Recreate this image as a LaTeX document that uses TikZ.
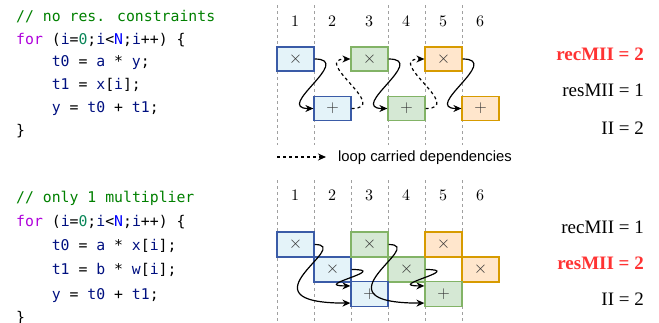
\documentclass[tikz,border=0pt]{standalone}
\usepackage{fontspec}
\usetikzlibrary{arrows.meta,calc}
\newfontfamily\tnr{Liberation Serif}
\newfontfamily\hel{Liberation Sans}
\newfontfamily\dmono{DejaVu Sans Mono}
\newfontfamily\lmten{lmroman10-regular.otf}
\definecolor{kwc}{HTML}{AF00DB}
\definecolor{varc}{HTML}{001080}
\definecolor{numc}{HTML}{098658}
\definecolor{cstc}{HTML}{0000FF}
\definecolor{cmtc}{HTML}{008000}
\definecolor{bfill}{HTML}{E4F3F9}
\definecolor{bdraw}{HTML}{3A5BA7}
\definecolor{gfill}{HTML}{D5E8D4}
\definecolor{gdraw}{HTML}{82B366}
\definecolor{ofill}{HTML}{FFE6CC}
\definecolor{odraw}{HTML}{D79B00}
\definecolor{gridc}{HTML}{A0A0A0}
\definecolor{redc}{HTML}{FF3333}
\newcommand\kwx[1]{\textcolor{kwc}{#1}}
\newcommand\vax[1]{\textcolor{varc}{#1}}
\newcommand\nux[1]{\textcolor{numc}{#1}}
\newcommand\csx[1]{\textcolor{cstc}{#1}}
\newcommand\cmx[1]{\textcolor{cmtc}{#1}}
\tikzset{
  code/.style={inner sep=0pt, anchor=base west, font=\dmono\fontsize{14.8}{17}\selectfont},
  num/.style={inner sep=0pt, anchor=base, font=\lmten\fontsize{16}{18}\selectfont},
  res/.style={inner sep=0pt, anchor=base east, font=\tnr\fontsize{19}{22}\selectfont},
  resred/.style={res, text=redc, font=\tnr\bfseries\fontsize{19}{22}\selectfont},
  cell/.style={draw, line width=1.2pt, minimum width=37pt, inner sep=0pt,
    font=\fontsize{19}{20}\selectfont, text=black!80},
  cellt/.style={cell, minimum height=24pt},
  cellb/.style={cell, minimum height=25pt},
  blue/.style={fill=bfill, draw=bdraw},
  green/.style={fill=gfill, draw=gdraw},
  orange/.style={fill=ofill, draw=odraw},
  gridl/.style={draw=gridc, line width=0.9pt, dash pattern=on 3pt off 3pt},
  dep/.style={line width=1.2pt, -{Stealth[length=8pt,width=7pt]}},
  lcd/.style={dep, dash pattern=on 3pt off 3pt},
}
\begin{document}
\begin{tikzpicture}[x=1pt,y=-1pt]
\useasboundingbox (0,0) rectangle (659,322);

% ---------- code, top ----------
\node[code] (t1) at (16,21.5) {\cmx{// no res. constraints}};
\node[code] (t2) at (16,44.2) {\kwx{for} (\vax{i}=\nux{0};\vax{i}<\csx{N};\vax{i}++) \{};
\node[code] (t3) at (51.6,66.9) {\vax{t0} = \vax{a} * \vax{y};};
\node[code] (t4) at (51.6,89.6) {\vax{t1} = \vax{x}[\vax{i}];};
\node[code] (t5) at (51.6,112.3) {\vax{y} = \vax{t0} + \vax{t1};};
\node[code] (t6) at (16,135) {\}};

% ---------- code, bottom ----------
\node[code] (u1) at (16,202.3) {\cmx{// only 1 multiplier}};
\node[code] (u2) at (16,226.5) {\kwx{for} (\vax{i}=\nux{0};\vax{i}<\csx{N};\vax{i}++) \{};
\node[code] (u3) at (51.6,250.7) {\vax{t0} = \vax{a} * \vax{x}[\vax{i}];};
\node[code] (u4) at (51.6,274.9) {\vax{t1} = \vax{b} * \vax{w}[\vax{i}];};
\node[code] (u5) at (51.6,299.1) {\vax{y} = \vax{t0} + \vax{t1};};
\node[code] (u6) at (16,322.5) {\}};

% ---------- grid, top ----------
\foreach \gx in {277,314,388,425,462} \draw[gridl] (\gx,5) -- (\gx,145);
\foreach \i/\cx in {1/295,2/332,3/369,4/406,5/443,6/480}
  \node[num] (nt\i) at (\cx,26.7) {\i};

% ---------- grid, bottom ----------
\foreach \gx in {277,314,351,388,425,462} \draw[gridl] (\gx,180) -- (\gx,322);
\foreach \i/\cx in {1/295,2/332,3/369,4/406,5/443,6/480}
  \node[num] (nb\i) at (\cx,200) {\i};

% ---------- top schedule ----------
\node[cellt,blue]   (bx) at (295.5,59)    {$\times$};
\node[cellt,blue]   (bp) at (332.5,108.5) {$+$};
\node[cellt,green]  (gx) at (369.5,59)    {$\times$};
\node[cellt,green]  (gp) at (406.5,108.5) {$+$};
\node[cellt,orange] (ox) at (443.5,59)    {$\times$};
\node[cellt,orange] (op) at (480.5,108.5) {$+$};

\draw[dep] (bx.east) .. controls +(40,0) and +(-40,0) .. (bp.west);
\draw[dep] (gx.east) .. controls +(40,0) and +(-40,0) .. (gp.west);
\draw[dep] (ox.east) .. controls +(40,0) and +(-40,0) .. (op.west);
\draw[lcd] (bp.east) .. controls +(40,0) and +(-40,0) .. (gx.west);
\draw[lcd] (gp.east) .. controls +(40,0) and +(-40,0) .. (ox.west);

% legend
\coordinate (la) at (277,157);
\node[inner sep=0pt, anchor=base west, font=\hel\fontsize{14.8}{17}\selectfont] (lt) at (338,161.5) {loop carried dependencies};
\coordinate (lb) at (326,157);
\draw[lcd] (la) -- (lb);

% ---------- bottom schedule ----------
\node[cellb,blue]   (Bx1) at (295.5,244.5) {$\times$};
\node[cellb,blue]   (Bx2) at (332.5,269.5) {$\times$};
\node[cellb,green]  (Gx1) at (369.5,244.5) {$\times$};
\node[cellb,green]  (Gx2) at (406.5,269.5) {$\times$};
\node[cellb,orange] (Ox1) at (443.5,244.5) {$\times$};
\node[cellb,orange] (Ox2) at (480.5,269.5) {$\times$};
\node[cellb,blue]   (Bp)  at (369.5,294)   {$+$};
\node[cellb,green]  (Gp)  at (443.5,294)   {$+$};

\draw[dep] (Bx1.east) .. controls +(40,0) and +(-115,0) .. ($(Bp.south west)+(0,-4)$);
\draw[dep] (Bx2.east) .. controls +(40,0) and +(-40,0) .. ($(Bp.north west)+(0,5)$);
\draw[dep] (Gx1.east) .. controls +(40,0) and +(-115,0) .. ($(Gp.south west)+(0,-4)$);
\draw[dep] (Gx2.east) .. controls +(40,0) and +(-40,0) .. ($(Gp.north west)+(0,5)$);

% ---------- MII values ----------
\node[resred] (r1) at (644,60)    {recMII = 2};
\node[res]    (r2) at (644,96.7)  {resMII = 1};
\node[res]    (r3) at (644,134)   {II = 2};
\node[res]    (r4) at (644,233.3) {recMII = 1};
\node[resred] (r5) at (644,269.3) {resMII = 2};
\node[res]    (r6) at (644,305)   {II = 2};
\end{tikzpicture}
\end{document}
